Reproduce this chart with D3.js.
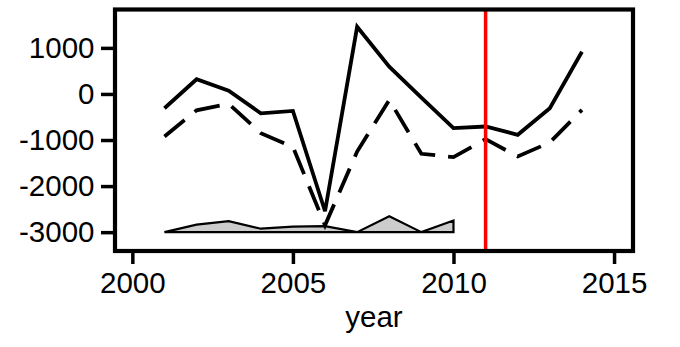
<!DOCTYPE html>
<html>
<head>
<meta charset="utf-8">
<script src="https://cdn.jsdelivr.net/npm/d3@7"></script>
<style>
  html, body { margin: 0; padding: 0; background: #fff; }
  svg { display: block; }
  text { font-family: "Liberation Sans", Arial, sans-serif; fill: #000; }
</style>
</head>
<body>
<div id="chart"></div>
<script>
// ---- data ----
const years = [2001, 2002, 2003, 2004, 2005, 2006, 2007, 2008, 2009, 2010, 2011, 2012, 2013, 2014];
const solidValues = [-310, 318, 68, -420, -368, -2547, 1457, 591, -80, -743, -707, -887, -310, 916];
const dashedValues = [-924, -355, -216, -851, -1150, -2850, -1250, -130, -1299, -1371, -981, -1357, -1054, -346];
const areaYears = [2001, 2002, 2003, 2004, 2005, 2006, 2007, 2008, 2009, 2010];
const areaHeights = [0, 165, 240, 75, 120, 130, 0, 345, 0, 253];
const areaBase = -3000;
const vlineYear = 2011;
const xTicks = [2000, 2005, 2010, 2015];
const yTicks = [1000, 0, -1000, -2000, -3000];
const xLabel = "year";

// ---- layout ----
const W = 680, H = 347;
const FS = 29.5;
const panel = { left: 115, right: 633, top: 9.5, bottom: 251 };

const svg = d3.select("#chart").append("svg").attr("width", W).attr("height", H);

const x = d3.scaleLinear().domain([1999.46, 2015.59]).range([panel.left, panel.right]);
const y = d3.scaleLinear().domain([-3409, 1833]).range([panel.bottom, panel.top]);

const fmt = d => String(d); // plain hyphen-minus

svg.append("clipPath").attr("id", "clip").append("rect")
  .attr("x", panel.left).attr("y", panel.top)
  .attr("width", panel.right - panel.left).attr("height", panel.bottom - panel.top);

const g = svg.append("g").attr("clip-path", "url(#clip)");

// area polygon
const areaData = areaYears.map((yr, i) => ({ x: yr, h: areaHeights[i] }));
const area = d3.area().x(d => x(d.x)).y0(y(areaBase)).y1(d => y(areaBase + d.h));
g.append("path").datum(areaData)
  .attr("d", area)
  .attr("fill", "#cccccc")
  .attr("stroke", "#000")
  .attr("stroke-width", 2.2)
  .attr("stroke-linejoin", "miter");

// lines
const line = d3.line().x(d => x(d[0])).y(d => y(d[1]));
g.append("path").datum(years.map((yr, i) => [yr, dashedValues[i]]))
  .attr("d", line).attr("fill", "none").attr("stroke", "#000")
  .attr("stroke-width", 3.8).attr("stroke-dasharray", "26,13");
g.append("path").datum(years.map((yr, i) => [yr, solidValues[i]]))
  .attr("d", line).attr("fill", "none").attr("stroke", "#000")
  .attr("stroke-width", 3.8);

// vertical red line
g.append("line")
  .attr("x1", x(vlineYear)).attr("x2", x(vlineYear))
  .attr("y1", panel.top).attr("y2", panel.bottom)
  .attr("stroke", "#ff0000").attr("stroke-width", 3.5);

// panel border
svg.append("rect")
  .attr("x", panel.left).attr("y", panel.top)
  .attr("width", panel.right - panel.left).attr("height", panel.bottom - panel.top)
  .attr("fill", "none").attr("stroke", "#000").attr("stroke-width", 4.2);

// axes
const yAxis = d3.axisLeft(y).tickValues(yTicks).tickSize(12).tickPadding(6.5).tickFormat(fmt);
const yg = svg.append("g").attr("transform", `translate(${panel.left - 2},0)`).call(yAxis);
yg.select(".domain").remove();
yg.selectAll(".tick line").attr("stroke", "#000").attr("stroke-width", 3.5);
yg.selectAll(".tick text").attr("font-size", FS).attr("font-family", "Liberation Sans, Arial, sans-serif").attr("fill", "#000");

const xAxis = d3.axisBottom(x).tickValues(xTicks).tickSize(11).tickPadding(8.5).tickFormat(fmt);
const xg = svg.append("g").attr("transform", `translate(0,${panel.bottom + 2})`).call(xAxis);
xg.select(".domain").remove();
xg.selectAll(".tick line").attr("stroke", "#000").attr("stroke-width", 3.5);
xg.selectAll(".tick text").attr("font-size", FS).attr("font-family", "Liberation Sans, Arial, sans-serif").attr("fill", "#000");

// x label
svg.append("text")
  .attr("x", (panel.left + panel.right) / 2)
  .attr("y", 327)
  .attr("text-anchor", "middle")
  .attr("font-size", FS)
  .text(xLabel);
</script>
</body>
</html>
